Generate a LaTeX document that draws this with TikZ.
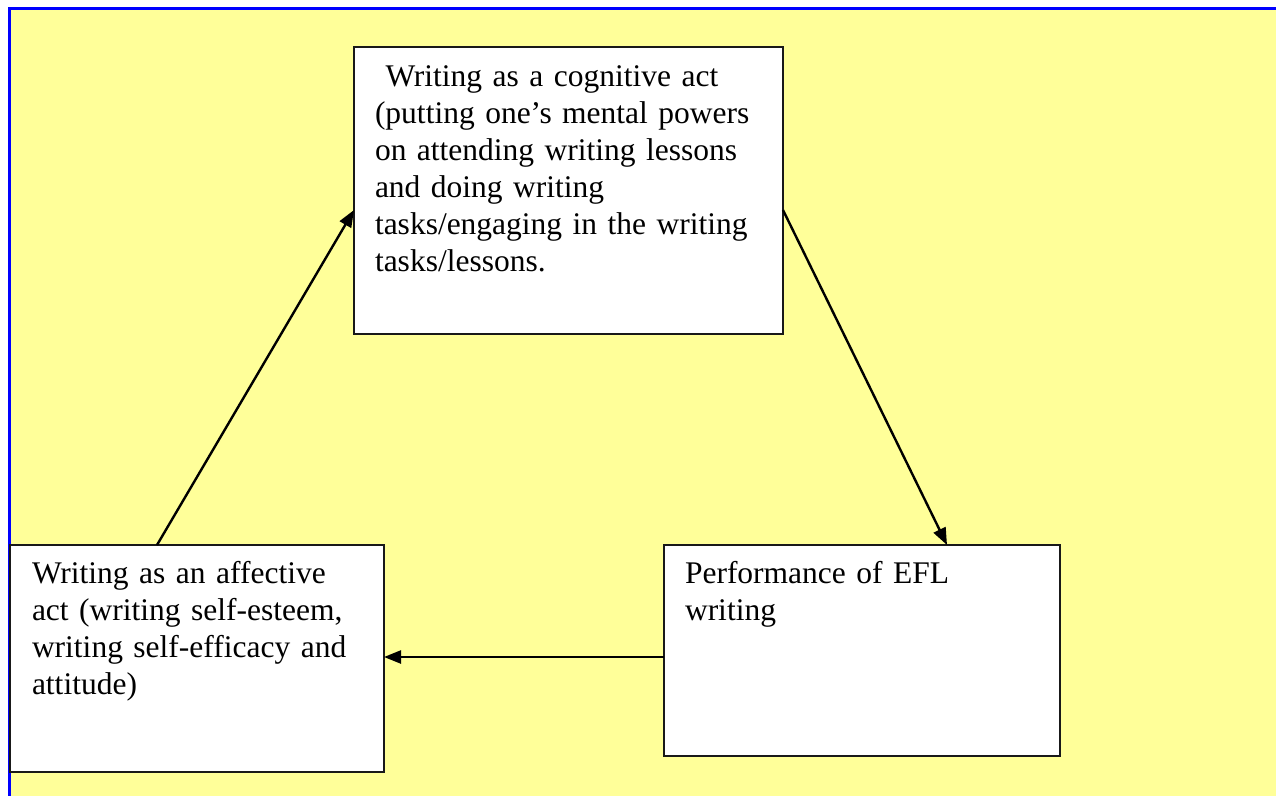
\documentclass[tikz,border=0pt]{standalone}
\usepackage{fontspec}
\setmainfont{Liberation Serif}
\usetikzlibrary{arrows.meta,calc}
\definecolor{bgyellow}{RGB}{255,255,153}
\definecolor{framblue}{RGB}{0,0,255}
\tikzset{
  box/.style={draw=black!90, line width=2.4pt, fill=white, rectangle, inner sep=0pt, outer sep=0pt, anchor=north west},
  txt/.style={anchor=north west, inner sep=0pt, outer sep=0pt, text width=420pt, align=left,
    font=\fontsize{31.5}{37}\selectfont},
  link/.style={line width=2.4pt, -{Triangle[length=17pt,width=13pt]}}
}
\newcommand{\firstline}{\rule{0pt}{24pt}}
\begin{document}
\begin{tikzpicture}[x=1pt,y=-1pt]
\useasboundingbox (0,0) rectangle (1276,795);
\fill[white] (0,0) rectangle (1276,795);
\draw[framblue, line width=3pt, fill=bgyellow] (9,8) rectangle (1300,820);
% boxes
\node[box, minimum width=429pt, minimum height=287pt] (tb) at (354,47) {};
\node[box, minimum width=374pt, minimum height=227pt] (lb) at (10,545) {};
\node[box, minimum width=396pt, minimum height=211pt] (rb) at (664,545) {};
% texts
\node[txt] (tbt) at (375,62) {\firstline\ Writing as a cognitive act\\(putting one’s mental powers\\on attending writing lessons\\and doing writing\\tasks/engaging in the writing\\tasks/lessons.};
\node[txt] (lbt) at (32,559) {\firstline Writing as an affective\\act (writing self-esteem,\\writing self-efficacy and\\attitude)};
\node[txt] (rbt) at (685,559) {\firstline Performance of EFL\\writing};
% connectors
\draw[link] ($(lb.north west)+(147,0)$) -- ($(tb.north west)+(0,163)$);
\draw[link] ($(tb.north east)+(0,163)$) -- ($(rb.north west)+(283,0)$);
\draw[link] ($(rb.north west)+(0,112)$) -- ($(lb.north east)+(0,112)$);
\end{tikzpicture}
\end{document}
